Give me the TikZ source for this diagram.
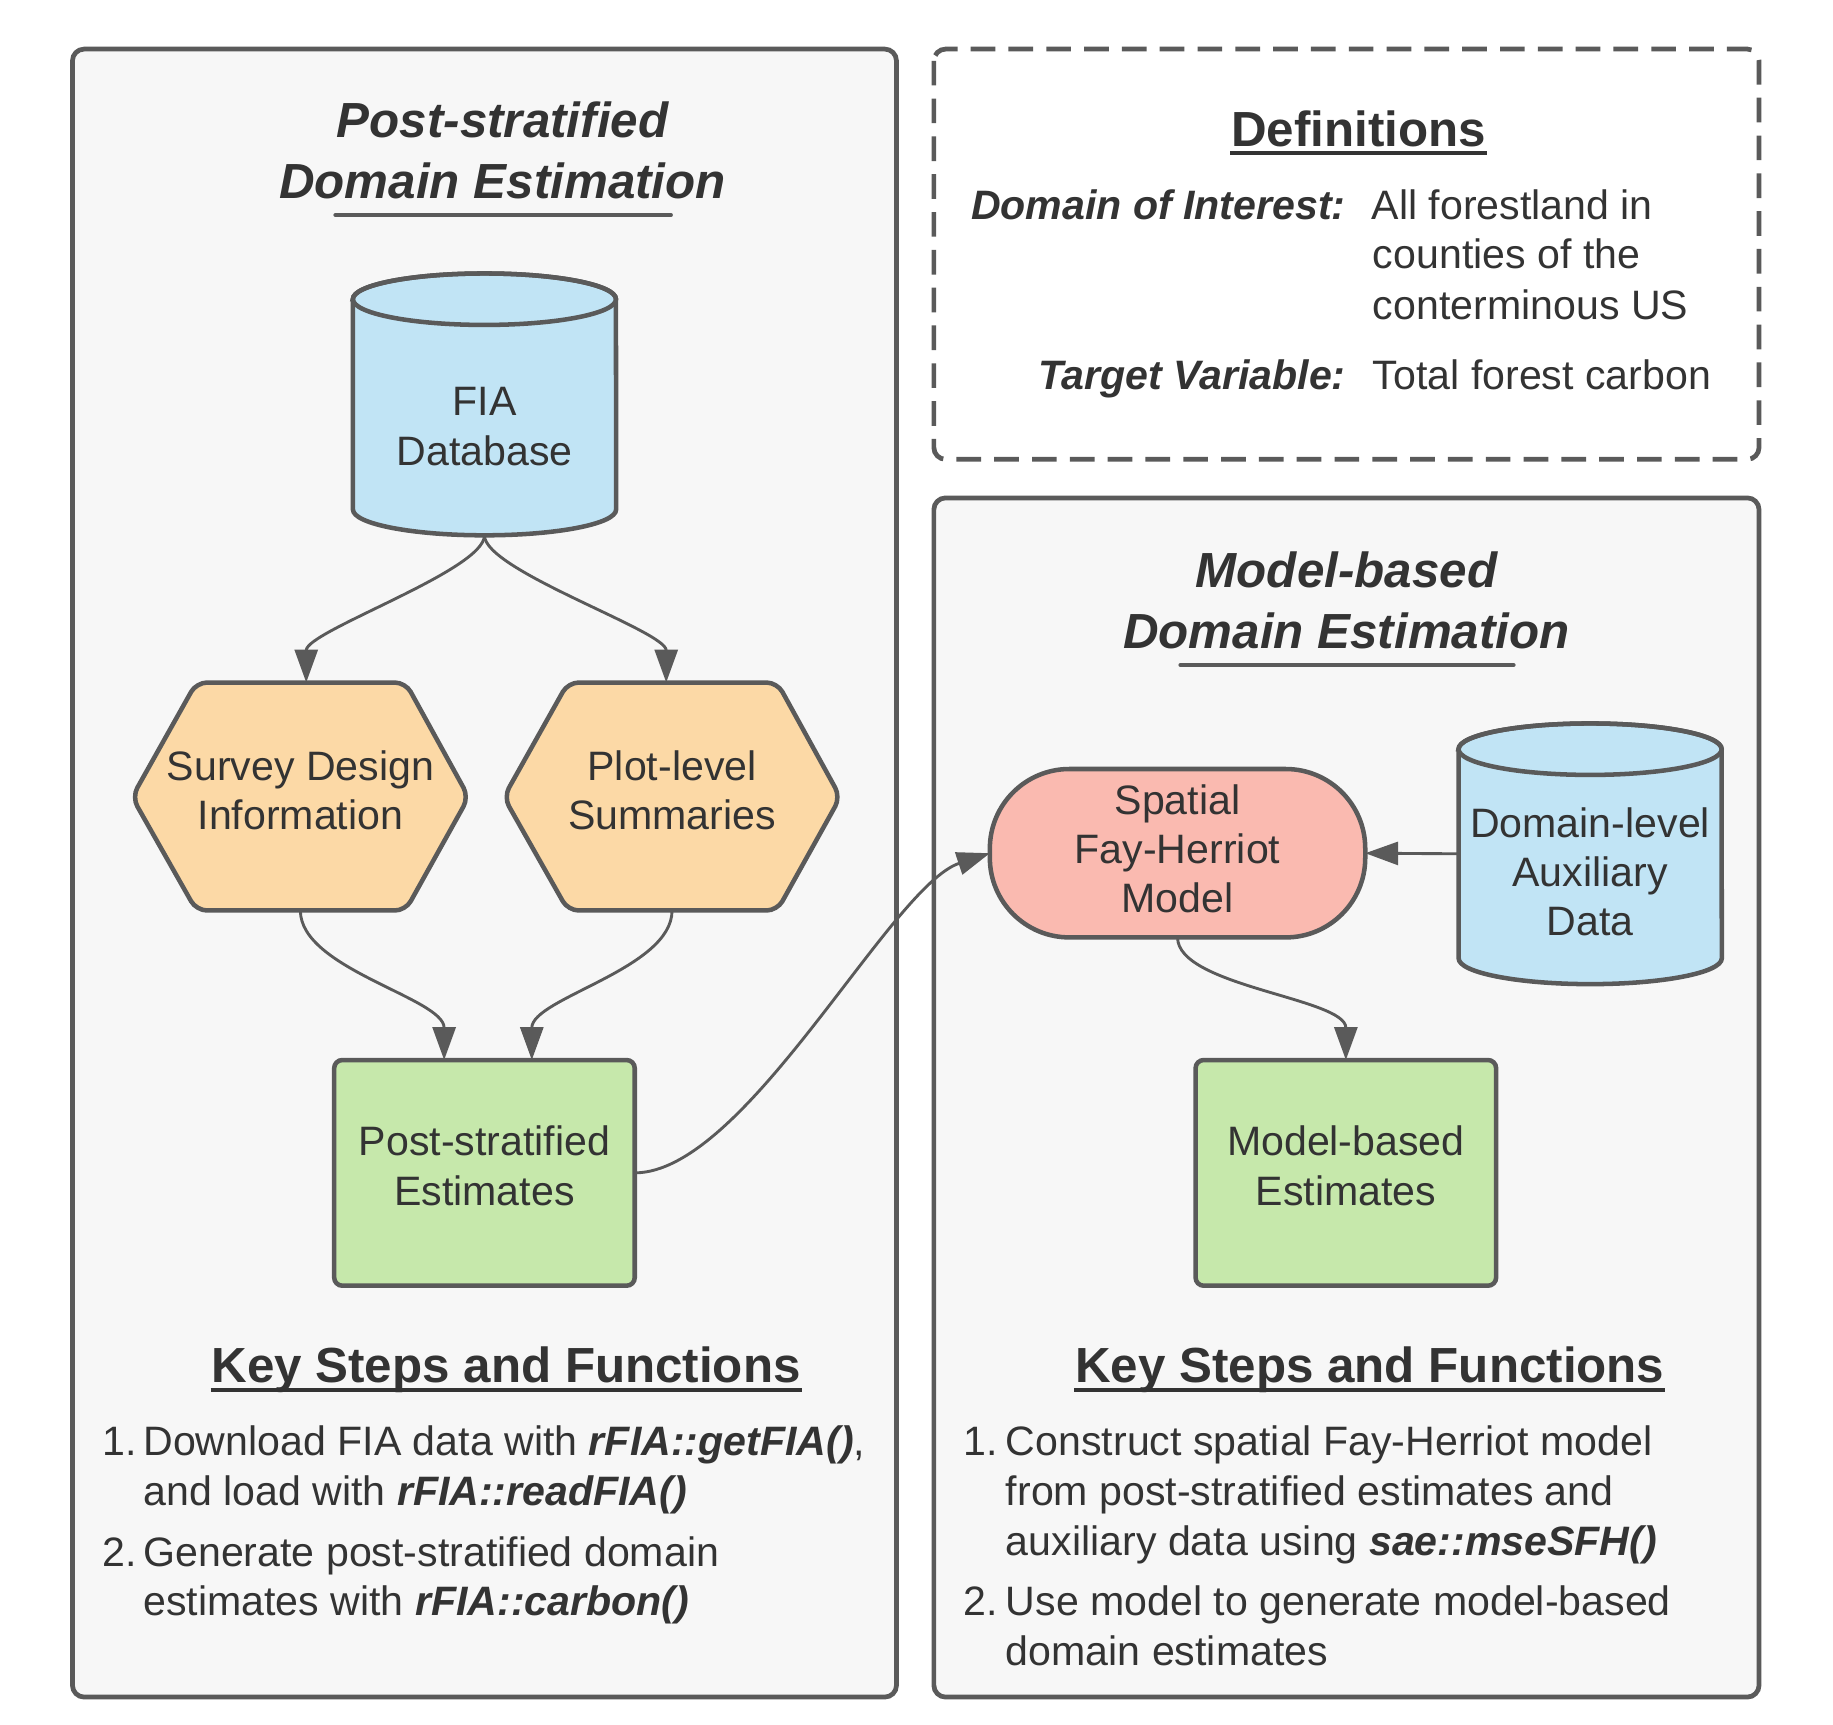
\documentclass[tikz,border=0pt]{standalone}
\usepackage{fontspec}
\setmainfont{Liberation Sans}
\usetikzlibrary{arrows.meta,calc}
\definecolor{txt}{RGB}{51,51,51}
\definecolor{edge}{RGB}{90,90,90}
\definecolor{panelfill}{RGB}{247,247,247}
\definecolor{cylblue}{RGB}{193,228,245}
\definecolor{hexorange}{RGB}{252,217,166}
\definecolor{boxgreen}{RGB}{198,232,171}
\definecolor{modelred}{RGB}{250,186,176}
\newcommand{\bfit}[1]{\textbf{\textit{#1}}}
\begin{document}
\begin{tikzpicture}[x=0.01cm,y=0.01cm,
  panel/.style={draw=edge, line width=1.15pt, fill=panelfill, rounded corners=0.1cm},
  shapeline/.style={draw=edge, line width=1.1pt},
  holder/.style={inner sep=0pt, outer sep=0pt},
  lbl/.style={text=txt, font=\fontsize{10}{11.95}\selectfont, align=center, inner sep=0pt},
  body/.style={text=txt, font=\fontsize{10}{11.95}\selectfont, inner sep=0pt, anchor=base west},
  ttl/.style={text=txt, font=\fontsize{12}{14.8}\selectfont\bfseries\itshape, inner sep=0pt, anchor=base},
  head/.style={text=txt, font=\fontsize{12}{14.8}\selectfont\bfseries, inner sep=0pt, anchor=base},
  conn/.style={draw=edge, line width=0.7pt, -{Triangle[length=8pt,width=5.6pt]}},
  uline/.style={draw=edge, line width=1pt, line cap=round},
  tline/.style={draw=txt, line width=0.9pt},
  boxnode/.style={draw=edge, line width=1.1pt, fill=boxgreen, rounded corners=0.07cm, inner sep=0pt, outer sep=0pt, minimum width=2.57cm, minimum height=1.93cm}
]
\useasboundingbox (0,0) rectangle (1568.3,-1475.9);
\fill[white] (0,0) rectangle (1568.3,-1475.9);

% panels
\draw[panel] (62,-42) rectangle (767,-1452);
\draw[panel] (799,-426) rectangle (1505,-1452);
\draw[draw=edge, line width=1.15pt, dash pattern=on 6pt off 3.2pt, rounded corners=0.1cm] (799,-42) rectangle (1505,-393);

% left title
\node[ttl] (t1a) at (430,-118) {Post-stratified};
\node[ttl] (t1b) at (430,-170) {Domain Estimation};
\draw[uline] (287,-184) -- (574,-184);

% right title
\node[ttl] (t2a) at (1152,-503) {Model-based};
\node[ttl] (t2b) at (1152,-555) {Domain Estimation};
\draw[uline] (1010,-569) -- (1295,-569);

% definitions
\node[head] (def) at (1162.5,-125) {Definitions};
\draw[tline] ($(def.base west)+(0,-6)$) -- ($(def.base east)+(0,-6)$);
\node[body, anchor=base east, font=\fontsize{10}{11.95}\selectfont\bfseries\itshape] (doi) at (1152,-188) {Domain of Interest:};
\node[body] (doi1) at (1173,-188) {All forestland in};
\node[body] (doi2) at (1174,-230) {counties of the};
\node[body] (doi3) at (1174,-273) {conterminous US};
\node[body, anchor=base east, font=\fontsize{10}{11.95}\selectfont\bfseries\itshape] (tv) at (1152,-333) {Target Variable:};
\node[body] (tv1) at (1174,-333) {Total forest carbon};

% FIA database cylinder
\node[holder, minimum width=2.25cm, minimum height=2.25cm] (fia) at (414.5,-345.5) {};
\draw[shapeline, fill=cylblue] (302,-256) -- (302,-436) arc[start angle=180,end angle=360,x radius=1.125cm,y radius=0.22cm] -- (527,-256) arc[start angle=0,end angle=180,x radius=1.125cm,y radius=0.22cm] -- cycle;
\draw[shapeline] (414.5,-256) ellipse[x radius=1.125cm, y radius=0.22cm];
\node[lbl] (fiat) at (414.5,-365) {FIA\\Database};

% hexagons
\node[holder, minimum width=2.88cm, minimum height=1.95cm] (sdi) at (257,-681.5) {};
\draw[shapeline, fill=hexorange, rounded corners=0.09cm] (257,-584) -- (347,-584) -- (401,-682) -- (347,-779) -- (168,-779) -- (113,-682) -- (168,-584) -- cycle;
\node[lbl] (sdit) at (257,-676) {Survey Design\\Information};

\node[holder, minimum width=2.88cm, minimum height=1.95cm] (pls) at (575,-681.5) {};
\draw[shapeline, fill=hexorange, rounded corners=0.09cm] (575,-584) -- (665,-584) -- (719,-682) -- (665,-779) -- (486,-779) -- (431,-682) -- (486,-584) -- cycle;
\node[lbl] (plst) at (575,-676) {Plot-level\\Summaries};

% post-stratified estimates
\node[boxnode] (pse) at (414.5,-1003.5) {};
\node[lbl] (pset) at (414.5,-997.5) {Post-stratified\\Estimates};

% spatial FH model
\node[draw=edge, line width=1.1pt, fill=modelred, rounded corners=0.68cm, minimum width=3.21cm, minimum height=1.44cm, inner sep=0pt, outer sep=0pt] (sfh) at (1007.5,-730) {};
\node[lbl] (sfht) at (1007.5,-726) {Spatial\\Fay-Herriot\\Model};

% domain-level auxiliary data cylinder
\node[holder, minimum width=2.25cm, minimum height=2.23cm] (dla) at (1360.5,-730.5) {};
\draw[shapeline, fill=cylblue] (1248,-641) -- (1248,-820) arc[start angle=180,end angle=360,x radius=1.125cm,y radius=0.22cm] -- (1473,-641) arc[start angle=0,end angle=180,x radius=1.125cm,y radius=0.22cm] -- cycle;
\draw[shapeline] (1360.5,-641) ellipse[x radius=1.125cm, y radius=0.22cm];
\node[lbl] (dlat) at (1360.5,-746) {Domain-level\\Auxiliary\\Data};

% model-based estimates
\node[boxnode] (mbe) at (1151.5,-1003.5) {};
\node[lbl] (mbet) at (1151.5,-997.5) {Model-based\\Estimates};

% connectors
\draw[conn] (fia.south) .. controls +(0,-30) and +(0,44) .. ($(sdi.north)+(5,0)$);
\draw[conn] (fia.south) .. controls +(0,-30) and +(0,44) .. ($(pls.north)+(-5,0)$);
\draw[conn] (sdi.south) .. controls +(0,-50) and +(0,53) .. ($(pse.north)+(-34.5,0)$);
\draw[conn] (pls.south) .. controls +(0,-50) and +(0,53) .. ($(pse.north)+(40.5,0)$);
\draw[conn] (pse.east) .. controls +(95,0) and +(-85,-28) .. (sfh.west);
\draw[conn] (dla.west) -- (sfh.east);
\draw[conn] (sfh.south) .. controls +(0,-42) and +(0,53) .. (mbe.north);

% key steps left
\node[head] (ks1) at (433,-1183) {Key Steps and Functions};
\draw[tline] ($(ks1.base west)+(0,-6)$) -- ($(ks1.base east)+(0,-6)$);
\node[body] (l1n) at (87,-1245) {1.};
\node[body] (l1a) at (122,-1245) {Download FIA data with \bfit{rFIA::getFIA()},};
\node[body] (l1b) at (122,-1288) {and load with \bfit{rFIA::readFIA()}};
\node[body] (l2n) at (87,-1340) {2.};
\node[body] (l2a) at (122,-1340) {Generate post-stratified domain};
\node[body] (l2b) at (122,-1382) {estimates with \bfit{rFIA::carbon()}};

% key steps right
\node[head] (ks2) at (1172,-1183) {Key Steps and Functions};
\draw[tline] ($(ks2.base west)+(0,-6)$) -- ($(ks2.base east)+(0,-6)$);
\node[body] (r1n) at (824,-1245) {1.};
\node[body] (r1a) at (860,-1245) {Construct spatial Fay-Herriot model};
\node[body] (r1b) at (860,-1288) {from post-stratified estimates and};
\node[body] (r1c) at (860,-1331) {auxiliary data using \bfit{sae::mseSFH()}};
\node[body] (r2n) at (824,-1382) {2.};
\node[body] (r2a) at (860,-1382) {Use model to generate model-based};
\node[body] (r2b) at (860,-1425) {domain estimates};
\end{tikzpicture}
\end{document}
